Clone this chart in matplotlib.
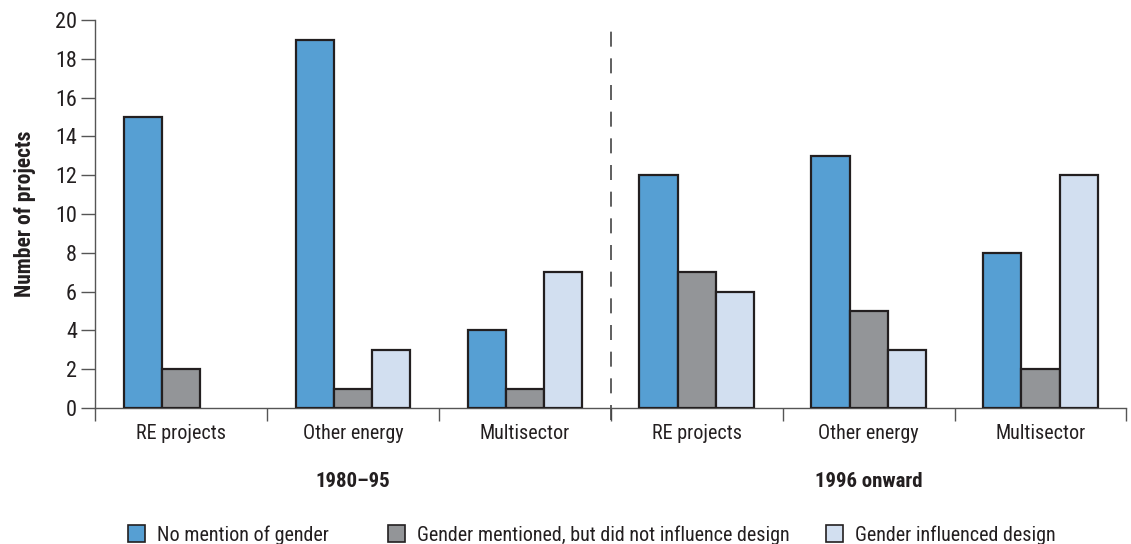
import numpy as np
import matplotlib
matplotlib.use("Agg")
import matplotlib.pyplot as plt
from matplotlib.patches import Patch
from matplotlib import font_manager

# condensed face if one is around, otherwise Liberation Sans
names = set(f.name for f in font_manager.fontManager.ttflist)
fam = 'Liberation Sans'
for cand in ['Roboto Condensed', 'Liberation Sans Narrow', 'Open Sans Condensed']:
    if cand in names:
        fam = cand
        break
plt.rcParams['font.family'] = [fam, 'DejaVu Sans']

categories = ["RE projects", "Other energy", "Multisector",
              "RE projects", "Other energy", "Multisector"]
periods = ["1980\u201395", "1996 onward"]
series_names = ["No mention of gender",
                "Gender mentioned, but did not influence design",
                "Gender influenced design"]
no_mention = [15, 19, 4, 12, 13, 8]
mentioned = [2, 1, 1, 7, 5, 2]
influenced = [0, 3, 7, 6, 3, 12]

colors = ["#569fd3", "#939598", "#d2dff0"]
edge = "#231f20"
txt = "#231f20"

fig = plt.figure(figsize=(11.31, 5.44), dpi=100)
ax = fig.add_axes([0.084, 0.25, 0.912, 0.713])

x = np.arange(len(categories))
w = 0.222
for k, vals in enumerate([no_mention, mentioned, influenced]):
    keep = [i for i, v in enumerate(vals) if v > 0]
    ax.bar(x[keep] + (k - 1) * w, [vals[i] for i in keep], w,
           color=colors[k], edgecolor=edge, linewidth=1.6, zorder=3)

ax.set_xlim(-0.5, len(categories) - 0.5)
ax.set_ylim(0, 20)
ax.set_yticks(range(0, 21, 2))
ax.tick_params(axis='y', labelsize=16, length=10, width=1, color="#555555",
               labelcolor=txt, pad=3)
ax.set_xticks(np.arange(-0.5, len(categories), 1.0))
ax.set_xticklabels([])
ax.tick_params(axis='x', length=9, width=1, color="#555555")
for i, c in enumerate(categories):
    ax.text(i, -0.8, c, ha='center', va='top', fontsize=14.5, color=txt)
for j, p in enumerate(periods):
    ax.text(1 + 3 * j, -3.3, p, ha='center', va='top', fontsize=15,
            fontweight='bold', color=txt)

for s in ['top', 'right']:
    ax.spines[s].set_visible(False)
for s in ['left', 'bottom']:
    ax.spines[s].set_color("#555555")
    ax.spines[s].set_linewidth(1)

ax.axvline(2.5, ymin=-0.03, ymax=1.0, color="#444444", linewidth=1.2,
           dashes=(9, 7), clip_on=False)

ax.set_ylabel("Number of projects", fontsize=15.5, fontweight='bold',
              color=txt, labelpad=14)

# one legend per entry so each sits where the reference puts it
leg_x = [0.113, 0.343, 0.730]
for k in range(3):
    h = Patch(facecolor=colors[k], edgecolor=edge, linewidth=1.2,
              label=series_names[k])
    fig.legend(handles=[h], loc='center left', bbox_to_anchor=(leg_x[k], 0.017),
               frameon=False, fontsize=14.5, handlelength=0.85,
               handleheight=0.85, handletextpad=0.6, borderpad=0,
               borderaxespad=0, labelcolor=txt)

fig.savefig("out.png", dpi=100)
